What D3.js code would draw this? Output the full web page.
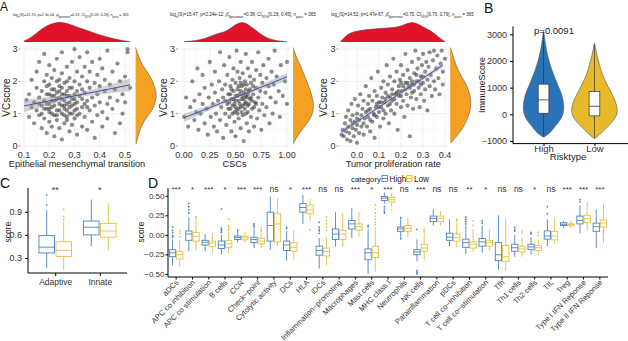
<!DOCTYPE html>
<html lang="en">
<head>
<meta charset="UTF-8" />
<script src="https://cdn.jsdelivr.net/npm/d3@7"></script>
<style>
  body { margin: 0; background: #fff; }
  svg { font-family: "Liberation Sans", Arial, sans-serif; }
</style>
</head>
<body>
<div id="chart"></div>
<script>
// ---------- data: panel A ----------
const emtPts = [[0.11,1.42],[0.12,0.9],[0.12,1.6],[0.13,1.2],[0.13,2.05],[0.14,1.35],[0.14,0.7],[0.15,1.8],[0.15,1.1],[0.15,2.3],[0.16,1.5],[0.16,0.95],[0.16,2.6],[0.17,1.25],[0.17,1.7],[0.17,0.55],[0.18,2.0],[0.18,1.4],[0.18,0.85],[0.18,2.85],[0.19,1.15],[0.19,1.6],[0.19,2.2],[0.19,0.4],[0.2,1.3],[0.2,1.9],[0.2,0.75],[0.2,2.5],[0.2,1.05],[0.21,1.55],[0.21,2.1],[0.21,0.6],[0.21,1.2],[0.22,1.75],[0.22,0.95],[0.22,2.35],[0.22,1.4],[0.22,0.3],[0.23,1.1],[0.23,1.65],[0.23,2.0],[0.23,0.8],[0.23,2.7],[0.24,1.3],[0.24,1.85],[0.24,0.55],[0.24,1.5],[0.25,2.25],[0.25,1.0],[0.25,1.6],[0.25,0.2],[0.25,2.9],[0.26,1.4],[0.26,1.95],[0.26,0.7],[0.26,1.15],[0.27,1.7],[0.27,2.45],[0.27,0.9],[0.27,1.3],[0.28,2.1],[0.28,1.55],[0.28,0.45],[0.28,1.0],[0.29,1.8],[0.29,2.6],[0.29,1.25],[0.29,0.65],[0.3,1.45],[0.3,2.0],[0.3,0.85],[0.3,3.0],[0.3,1.1],[0.31,1.7],[0.31,2.3],[0.31,0.35],[0.31,1.35],[0.32,1.9],[0.32,1.0],[0.32,2.75],[0.32,1.55],[0.33,1.2],[0.33,2.15],[0.33,0.6],[0.34,1.65],[0.34,2.45],[0.34,0.9],[0.35,1.4],[0.35,2.0],[0.35,0.5],[0.35,2.9],[0.36,1.8],[0.36,1.1],[0.36,2.3],[0.37,1.5],[0.37,0.75],[0.37,2.6],[0.38,1.95],[0.38,1.25],[0.38,0.25],[0.39,1.6],[0.39,2.2],[0.39,0.95],[0.4,1.35],[0.4,2.7],[0.4,1.85],[0.41,1.05],[0.41,2.4],[0.41,0.6],[0.42,1.7],[0.42,2.05],[0.43,1.3],[0.43,2.95],[0.43,0.85],[0.44,1.9],[0.44,1.5],[0.45,2.3],[0.45,1.15],[0.46,1.75],[0.46,0.4],[0.47,2.55],[0.47,1.4],[0.48,2.0],[0.48,0.7],[0.49,1.6],[0.49,1.0],[0.5,2.15],[0.5,1.35],[0.51,2.9],[0.51,3.0],[0.52,1.8],[0.2,1.6],[0.22,1.25],[0.24,1.7],[0.26,1.6],[0.28,1.35],[0.25,1.25],[0.27,1.1],[0.23,1.45],[0.21,1.0],[0.3,1.6],[0.29,1.0],[0.18,1.15],[0.26,0.95],[0.24,2.05],[0.33,1.45],[0.31,0.95],[0.19,1.85],[0.27,2.0],[0.35,1.2],[0.28,1.8],[0.17,1.0],[0.19,1.3],[0.21,1.75],[0.23,0.95],[0.25,1.45],[0.27,1.55],[0.29,1.45],[0.31,1.15],[0.33,1.75],[0.22,1.55],[0.24,1.1],[0.26,1.25],[0.2,1.15],[0.28,1.2],[0.3,1.3],[0.16,1.3],[0.34,1.3],[0.25,1.8],[0.21,1.4],[0.27,0.8]];
const cscPts = [[0.0,0.9],[0.02,1.5],[0.04,0.6],[0.06,1.2],[0.08,2.0],[0.1,0.8],[0.1,1.4],[0.12,1.05],[0.13,2.4],[0.14,0.5],[0.15,1.6],[0.16,1.0],[0.18,1.3],[0.18,2.2],[0.2,0.7],[0.2,1.8],[0.22,1.15],[0.23,0.35],[0.24,1.5],[0.25,2.6],[0.26,0.9],[0.27,1.9],[0.28,1.3],[0.29,0.6],[0.3,1.65],[0.3,2.3],[0.31,1.0],[0.32,0.45],[0.33,1.4],[0.34,2.0],[0.35,0.8],[0.35,2.9],[0.36,1.2],[0.37,1.75],[0.38,0.25],[0.38,1.5],[0.39,2.5],[0.4,1.0],[0.4,1.9],[0.41,0.65],[0.42,1.3],[0.42,2.2],[0.43,1.6],[0.44,0.9],[0.44,2.75],[0.45,1.15],[0.45,1.85],[0.46,0.45],[0.46,1.45],[0.47,2.05],[0.47,1.0],[0.48,1.7],[0.48,2.4],[0.49,0.75],[0.49,1.3],[0.5,1.95],[0.5,1.55],[0.5,0.3],[0.51,2.95],[0.51,1.1],[0.52,1.75],[0.52,2.3],[0.53,0.85],[0.53,1.4],[0.54,2.1],[0.54,1.6],[0.55,0.55],[0.55,1.2],[0.55,2.6],[0.56,1.85],[0.56,1.45],[0.57,0.95],[0.57,2.25],[0.58,1.65],[0.58,0.15],[0.59,1.3],[0.59,2.0],[0.6,1.0],[0.6,2.85],[0.6,1.55],[0.61,0.7],[0.61,1.9],[0.62,1.25],[0.62,2.4],[0.63,1.7],[0.63,0.45],[0.64,2.15],[0.64,1.45],[0.65,0.9],[0.65,1.95],[0.66,1.15],[0.66,2.6],[0.67,1.6],[0.68,0.6],[0.68,2.05],[0.69,1.35],[0.7,2.35],[0.7,1.8],[0.71,0.85],[0.72,1.5],[0.72,2.9],[0.73,1.1],[0.74,2.2],[0.74,1.7],[0.75,0.5],[0.76,1.95],[0.76,1.3],[0.77,2.5],[0.78,0.95],[0.79,1.65],[0.8,2.1],[0.8,1.2],[0.82,1.85],[0.82,2.7],[0.83,0.7],[0.84,1.5],[0.85,2.3],[0.86,1.0],[0.87,1.9],[0.88,2.95],[0.89,1.35],[0.9,2.15],[0.92,1.7],[0.93,0.9],[0.94,2.5],[0.96,1.55],[0.98,2.0],[1.0,2.6],[1.0,1.3],[0.45,1.6],[0.5,1.2],[0.52,1.0],[0.55,1.7],[0.58,1.9],[0.6,1.35],[0.62,1.6],[0.57,1.25],[0.53,1.85],[0.48,1.45],[0.65,1.5],[0.67,1.85],[0.43,1.15],[0.4,1.4],[0.7,1.3],[0.5,1.4],[0.54,1.3],[0.56,1.05],[0.58,1.45],[0.6,1.75],[0.63,1.3],[0.66,1.4],[0.47,1.25],[0.52,1.55],[0.55,1.95],[0.59,1.15],[0.61,1.5],[0.64,1.75],[0.68,1.2],[0.46,1.75],[0.44,1.35],[0.62,1.05],[0.57,1.55],[0.49,1.05],[0.53,1.15]];
const tprPts = [[-0.07,0.35],[-0.065,0.5],[-0.06,0.3],[-0.055,0.7],[-0.05,0.45],[-0.05,0.9],[-0.045,0.2],[-0.04,0.6],[-0.04,1.1],[-0.035,0.4],[-0.03,0.8],[-0.03,0.15],[-0.025,1.3],[-0.02,0.55],[-0.02,0.95],[-0.015,0.3],[-0.01,0.75],[-0.01,1.45],[-0.005,0.5],[0.0,1.0],[0.0,0.65],[0.0,0.1],[0.005,1.25],[0.01,0.8],[0.01,0.4],[0.015,1.6],[0.02,0.95],[0.02,0.6],[0.025,1.15],[0.03,0.35],[0.03,1.4],[0.035,0.85],[0.04,1.05],[0.04,1.85],[0.045,0.6],[0.05,1.3],[0.05,0.9],[0.055,1.55],[0.06,0.45],[0.06,1.15],[0.065,2.1],[0.07,0.75],[0.07,1.4],[0.075,1.0],[0.08,1.7],[0.08,0.25],[0.085,1.2],[0.09,0.9],[0.09,1.55],[0.095,2.3],[0.1,1.05],[0.1,1.35],[0.105,0.6],[0.11,1.8],[0.11,1.2],[0.115,1.5],[0.12,0.85],[0.12,2.0],[0.125,1.35],[0.13,1.65],[0.13,1.0],[0.135,2.5],[0.14,1.25],[0.14,1.9],[0.145,0.7],[0.15,1.5],[0.15,2.15],[0.155,1.1],[0.16,1.75],[0.16,1.4],[0.165,2.7],[0.17,1.0],[0.17,2.0],[0.175,1.6],[0.18,1.3],[0.18,2.3],[0.185,0.5],[0.19,1.85],[0.19,1.55],[0.195,2.05],[0.2,1.2],[0.2,2.5],[0.205,1.7],[0.21,1.4],[0.21,2.2],[0.215,0.9],[0.22,1.95],[0.22,2.85],[0.225,1.6],[0.23,2.35],[0.23,1.25],[0.235,1.85],[0.24,2.1],[0.24,0.3],[0.245,1.5],[0.25,2.6],[0.25,1.9],[0.255,1.15],[0.26,2.25],[0.26,1.7],[0.265,2.95],[0.27,2.0],[0.27,1.45],[0.275,2.4],[0.28,1.8],[0.28,2.7],[0.285,1.2],[0.29,2.15],[0.29,1.6],[0.295,2.5],[0.3,1.95],[0.3,2.85],[0.305,1.4],[0.31,2.3],[0.31,1.75],[0.315,2.6],[0.32,2.05],[0.32,1.1],[0.325,2.45],[0.33,1.85],[0.33,2.9],[0.335,2.2],[0.34,1.55],[0.345,2.65],[0.35,2.0],[0.35,2.95],[0.355,1.75],[0.36,2.4],[0.365,2.8],[0.37,2.1],[0.375,1.6],[0.38,2.55],[0.385,2.95],[0.39,2.3],[0.39,1.9],[0.4,2.7],[0.0,0.85],[0.05,1.1],[0.1,1.2],[0.15,1.3],[0.2,1.55],[0.25,2.0],[0.3,2.15],[0.12,1.1],[0.18,1.65],[0.22,1.75],[0.28,2.0],[0.08,0.95],[0.03,0.7],[-0.02,0.7],[0.26,1.9],[0.13,1.45],[0.16,1.6],[0.19,1.7],[0.21,1.85],[0.24,1.8],[0.27,2.2],[0.17,1.45],[0.14,1.55],[0.11,1.35],[0.23,1.95],[0.29,1.9],[0.06,0.8],[0.09,1.3],[0.25,1.65],[0.2,1.95]];

// marginal densities: [value, relative height]
const emtTopDens = [[0.1,0.05],[0.125,0.2],[0.15,0.45],[0.175,0.7],[0.2,0.88],[0.235,1.0],[0.26,0.97],[0.3,0.8],[0.33,0.66],[0.36,0.54],[0.4,0.35],[0.43,0.25],[0.46,0.15],[0.5,0.05],[0.52,0.02]];
const emtRightDens = [[3.05,0.0],[3.0,0.03],[2.75,0.15],[2.5,0.33],[2.25,0.6],[2.0,0.83],[1.7,0.97],[1.5,1.0],[1.2,0.87],[1.0,0.67],[0.8,0.42],[0.5,0.2],[0.2,0.08],[0.05,0.02]];
const cscTopDens = [[0,0.02],[0.1,0.06],[0.16,0.12],[0.22,0.2],[0.29,0.37],[0.35,0.45],[0.42,0.55],[0.48,0.82],[0.55,1.0],[0.6,0.95],[0.64,0.8],[0.7,0.58],[0.73,0.45],[0.78,0.28],[0.83,0.15],[0.9,0.07],[0.95,0.04],[1.0,0.02]];
const cscRightDens = [[3.05,0.0],[3.0,0.03],[2.75,0.15],[2.45,0.38],[1.95,0.69],[1.52,0.92],[1.2,1.0],[0.9,0.89],[0.6,0.54],[0.28,0.18],[0.13,0.05],[0.05,0.01]];
const tprTopDens = [[-0.075,0.03],[-0.06,0.2],[-0.04,0.4],[-0.02,0.5],[0.0,0.55],[0.05,0.63],[0.1,0.68],[0.15,0.7],[0.2,0.78],[0.24,1.0],[0.27,0.95],[0.3,0.75],[0.33,0.6],[0.36,0.35],[0.38,0.15],[0.4,0.03]];
const tprRightDens = [[3.05,0.0],[3.0,0.05],[2.45,0.27],[2.04,0.65],[1.73,0.89],[1.42,1.0],[1.1,0.97],[0.8,0.8],[0.5,0.56],[0.25,0.24],[0.1,0.05]];

// fitted lines: [x0, x1], [y0, y1], CI half widths [left, mid, right]
const emtFit = { x: [0.1, 0.52], y: [1.24, 1.89], se: [0.2, 0.07, 0.2] };
const cscFit = { x: [0.0, 1.0], y: [0.87, 2.14], se: [0.13, 0.05, 0.12] };
const tprFit = { x: [-0.07, 0.39], y: [0.44, 2.5], se: [0.08, 0.04, 0.08] };

const xTitles = ["Epithelial mesenchymal transition", "CSCs", "Tumor proliferation rate"];
const statLogS = ["15.70", "15.47", "14.52"];
const statP = ["2.3e-04", "2.24e-12", "1.47e-67"];
const statRho = ["0.19", "0.38", "0.75"];
const statCI = ["[0.09, 0.29]", "[0.28, 0.45]", "[0.70, 0.79]"];
const nPairs = 365;
const vcTicks = [0, 1, 2, 3];

// ---------- data: panel B ----------
const riskCats = ["High", "Low"];
const riskViolins = [
  [[3100,0.01],[2800,0.05],[2400,0.12],[2000,0.23],[1800,0.3],[1500,0.42],[1160,0.57],[900,0.7],[660,0.8],[290,0.87],[0,0.83],[-200,0.72],[-340,0.59],[-500,0.45],[-650,0.32],[-750,0.19],[-850,0.03]],
  [[2650,0.01],[2400,0.06],[2040,0.15],[1410,0.35],[910,0.65],[540,0.87],[160,1.0],[-150,0.9],[-460,0.56],[-710,0.28],[-900,0.03]]
];
const riskBox = [[-850, 40, 540, 1130, 3080], [-900, -60, 300, 850, 2630]];
const immuneTicks = [-1000, 0, 1000, 2000, 3000];
const riskP = "p=0.0091";

// ---------- data: panel C ----------
const cCats = ["Adaptive", "Innate"];
const cHigh = [[0.17,0.365,0.44,0.59,0.92],[0.45,0.60,0.70,0.78,1.06]];
const cLow = [[0.14,0.32,0.40,0.51,0.77],[0.40,0.57,0.65,0.75,1.01]];
const cOutHigh = [[0.99,1.12],[]];
const cOutLow = [[0.8,0.84,0.93],[]];
const cSig = ["**", "*"];
const cTicks = [0.3, 0.6, 0.9];

// ---------- data: panel D ----------
const dCats = ["aDCs","APC co inhibition","APC co stimulation","B cells","CCR","Check\u2212point","Cytolytic activity","DCs","HLA","iDCs","Inflammation\u2212promoting","Macrophages","Mast cells","MHC class I","Neutrophils","NK cells","Parainflammation","pDCs","T cell co\u2212inhibition","T cell co\u2212stimulation","Tfh","Th1 cells","Th2 cells","TIL","Treg","Type I IFN Reponse","Type II IFN Reponse"];
const dSig = ["***","*","***","*","***","***","ns","*","***","ns","ns","***","*","***","ns","***","ns","ns","**","*","ns","ns","*","ns","***","***","***"];
const dHigh = [[-0.39,-0.28,-0.23,-0.19,-0.06],[-0.21,-0.07,0.01,0.05,0.23],[-0.21,-0.13,-0.095,-0.07,0.01],[-0.25,-0.175,-0.13,-0.08,0.0],[-0.1,-0.06,-0.035,-0.015,0.05],[-0.17,-0.1,-0.06,-0.03,0.08],[-0.19,-0.08,0.12,0.29,0.49],[-0.33,-0.2,-0.13,-0.08,0.05],[0.14,0.29,0.35,0.40,0.51],[-0.43,-0.26,-0.2,-0.145,-0.04],[-0.15,-0.06,0.01,0.075,0.29],[-0.04,0.075,0.14,0.185,0.34],[-0.5,-0.32,-0.23,-0.18,0.07],[0.40,0.44,0.47,0.49,0.54],[-0.035,0.045,0.075,0.1,0.21],[-0.34,-0.255,-0.22,-0.19,-0.06],[0.12,0.17,0.21,0.24,0.325],[-0.145,-0.07,-0.03,0.02,0.2],[-0.245,-0.16,-0.1,-0.055,0.12],[-0.23,-0.145,-0.09,-0.045,0.12],[-0.45,-0.33,-0.255,-0.1,0.25],[-0.28,-0.21,-0.165,-0.12,0.0],[-0.25,-0.19,-0.155,-0.12,-0.03],[-0.145,-0.055,-0.015,0.05,0.2],[0.09,0.12,0.135,0.155,0.18],[0.02,0.14,0.185,0.24,0.38],[-0.17,0.045,0.105,0.15,0.32]];
const dLow = [[-0.41,-0.31,-0.255,-0.21,-0.07],[-0.19,-0.08,-0.02,0.03,0.19],[-0.23,-0.15,-0.105,-0.08,-0.01],[-0.24,-0.16,-0.115,-0.07,0.03],[-0.1,-0.065,-0.04,-0.02,0.04],[-0.17,-0.115,-0.08,-0.045,0.03],[-0.14,-0.09,0.14,0.27,0.47],[-0.32,-0.21,-0.16,-0.1,0.06],[0.18,0.27,0.32,0.38,0.46],[-0.39,-0.27,-0.21,-0.17,-0.03],[-0.15,-0.06,0.01,0.06,0.28],[-0.02,0.06,0.105,0.14,0.29],[-0.47,-0.29,-0.23,-0.145,0.1],[0.36,0.42,0.45,0.48,0.54],[-0.03,0.045,0.085,0.12,0.21],[-0.32,-0.21,-0.17,-0.12,0.02],[0.12,0.17,0.21,0.24,0.3],[-0.16,-0.08,-0.035,0.01,0.16],[-0.22,-0.17,-0.12,-0.09,0.07],[-0.2,-0.145,-0.1,-0.07,0.07],[-0.46,-0.34,-0.28,-0.135,0.2],[-0.28,-0.22,-0.18,-0.145,-0.04],[-0.255,-0.2,-0.165,-0.135,-0.06],[-0.12,-0.065,-0.015,0.045,0.22],[0.09,0.115,0.13,0.14,0.18],[0.05,0.16,0.205,0.25,0.42],[-0.1,0.1,0.15,0.19,0.4]];
const dOutHigh = [[0.10,0.06,0.03,-0.01,-0.03],[0.40,0.36,0.32,0.28],[],[0.33,0.09,0.07,0.05,0.03],[0.06],[0.14,0.12,0.1],[],[0.08,0.1],[],[0.16,0.1,0.07,0.05,0.02],[],[],[0.12,0.1],[0.36,0.33,0.3,0.28],[-0.05,0.22],[0.07,-0.46,-0.48,-0.5],[],[],[0.23,0.2,0.17,0.14],[0.18,0.15],[],[0.1,0.07,0.05],[0.03,0.01],[0.36,0.27],[],[0.45,0.42],[]];
const dOutLow = [[0.05,0.02,-0.02],[0.23,0.21],[0.01],[0.2,0.12,0.1,0.08,0.06],[],[0.09,0.06,0.05],[],[],[0.07],[0.23,0.18,0.14,0.1,0.06],[],[],[0.38,0.33,0.28,0.24,0.2,0.16,0.13],[0.32],[],[0.07,0.04],[],[0.2,0.18],[0.18,0.12],[],[],[0.05,0.02],[0.03,-0.01],[],[],[],[0.02,0.05,-0.05]];
const dTicks = [-0.5, -0.25, 0, 0.25, 0.5];
const groups = ["High", "Low"];

// ---------- drawing ----------
const W = 628, H = 341;
const colHigh = "#4a82c3", colLow = "#e3c13f";
const svg = d3.select("#chart").append("svg").attr("width", W).attr("height", H);

function panelLabel(t, x, y, fs) {
  svg.append("text").attr("x", x).attr("y", y).attr("font-size", fs || 14).attr("fill", "#111").text(t);
}

// subtitle extents [left, right] in px
const subSpan = [[13, 129], [170, 316], [331, 474]];

function scatterPanel(i, pts, topD, rightD, fit, xDom, xRange, xTicks, fmt) {
  const g = svg.append("g");
  const x = d3.scaleLinear().domain(xDom).range(xRange);
  const y = d3.scaleLinear().domain([-0.1, 3.1]).range([149.2, 45.8]);
  const [x0, x1] = xRange;
  // grid
  const xt = xTicks, step = xt[1] - xt[0];
  const minorX = xt.map(v => v + step / 2).concat([xt[0] - step / 2]).filter(v => v > xDom[0] && v < xDom[1]);
  g.selectAll(".gmx").data(minorX).join("line")
    .attr("x1", d => x(d)).attr("x2", d => x(d)).attr("y1", y(3.1)).attr("y2", y(-0.1))
    .attr("stroke", "#f2f2f2").attr("stroke-width", 0.5);
  g.selectAll(".gmy").data([0.5, 1.5, 2.5]).join("line")
    .attr("x1", x0).attr("x2", x1).attr("y1", d => y(d)).attr("y2", d => y(d))
    .attr("stroke", "#f2f2f2").attr("stroke-width", 0.5);
  g.selectAll(".gx").data(xt).join("line")
    .attr("x1", d => x(d)).attr("x2", d => x(d)).attr("y1", y(3.1)).attr("y2", y(-0.1))
    .attr("stroke", "#e6e6e6").attr("stroke-width", 0.6);
  g.selectAll(".gy").data(vcTicks).join("line")
    .attr("x1", x0).attr("x2", x1).attr("y1", d => y(d)).attr("y2", d => y(d))
    .attr("stroke", "#e6e6e6").attr("stroke-width", 0.6);

  // points
  g.selectAll(".pt").data(pts).join("circle")
    .attr("cx", d => x(d[0])).attr("cy", d => y(d[1])).attr("r", 2.1)
    .attr("fill", "#2e2e2e").attr("fill-opacity", 0.55);

  // CI band + fit line
  const band = d3.range(0, 1.0001, 0.05).map(t => {
    const xv = fit.x[0] + t * (fit.x[1] - fit.x[0]);
    const yv = fit.y[0] + t * (fit.y[1] - fit.y[0]);
    const e = t < 0.5 ? fit.se[0] : fit.se[2];
    const se = Math.sqrt(fit.se[1] ** 2 + (e ** 2 - fit.se[1] ** 2) * (2 * t - 1) ** 2);
    return [xv, yv - se, yv + se];
  });
  g.append("path").datum(band)
    .attr("d", d3.area().x(d => x(d[0])).y0(d => y(d[1])).y1(d => y(d[2])))
    .attr("fill", "#9e9e9e").attr("fill-opacity", 0.45);
  g.append("line")
    .attr("x1", x(fit.x[0])).attr("y1", y(fit.y[0]))
    .attr("x2", x(fit.x[1])).attr("y2", y(fit.y[1]))
    .attr("stroke", "#3d55b0").attr("stroke-width", 1);

  // axis labels
  g.selectAll(".yl").data(vcTicks).join("text")
    .attr("x", x0 - 4).attr("y", d => y(d) + 3).attr("text-anchor", "end")
    .attr("font-size", 9).attr("fill", "#333").text(d => d);
  g.selectAll(".yt").data(vcTicks).join("line")
    .attr("x1", x0 - 3).attr("x2", x0 - 1).attr("y1", d => y(d)).attr("y2", d => y(d))
    .attr("stroke", "#555").attr("stroke-width", 0.6);
  g.selectAll(".xl").data(xt).join("text")
    .attr("x", d => x(d)).attr("y", 157.5).attr("text-anchor", "middle")
    .attr("font-size", 9).attr("fill", "#333").text(d => d3.format(fmt)(d));
  g.append("text").attr("transform", `translate(${x0 - 12},${y(1.5)}) rotate(-90)`)
    .attr("text-anchor", "middle").attr("font-size", 10).attr("fill", "#222").text("VCscore");
  g.append("text").attr("x", (x0 + x1) / 2).attr("y", 166.5).attr("text-anchor", "middle")
    .attr("font-size", 9.2).attr("fill", "#222").text(xTitles[i]);

  // top marginal density
  const topBase = 42, topH = 20;
  g.append("path").datum(topD)
    .attr("d", d3.area().curve(d3.curveBasis).x(d => x(d[0])).y0(topBase).y1(d => topBase - d[1] * topH))
    .attr("fill", "#e3122b");
  g.append("path").datum(topD)
    .attr("d", d3.line().curve(d3.curveBasis).x(d => x(d[0])).y(d => topBase - d[1] * topH))
    .attr("fill", "none").attr("stroke", "#444").attr("stroke-width", 0.5);

  // right marginal density
  const rBase = x1 + 3, rW = 21;
  g.append("path").datum(rightD)
    .attr("d", d3.area().curve(d3.curveBasis).y(d => y(d[0])).x0(rBase).x1(d => rBase + d[1] * rW))
    .attr("fill", "#f3a023");
  g.append("path").datum(rightD)
    .attr("d", d3.line().curve(d3.curveBasis).y(d => y(d[0])).x(d => rBase + d[1] * rW))
    .attr("fill", "none").attr("stroke", "#444").attr("stroke-width", 0.5);

  // stats subtitle: font size fitted to the width it takes in the figure
  const [s0, s1] = subSpan[i];
  const t = g.append("text").attr("x", s0).attr("y", 16).attr("font-size", 5).attr("fill", "#222");
  const sub = s => t.append("tspan").attr("font-size", "0.72em").attr("baseline-shift", "sub").text(s);
  t.append("tspan").text("log");
  sub("e");
  t.append("tspan").text(`(S)=${statLogS[i]}, p=${statP[i]}, \u03C1\u0302`);
  sub("Spearman");
  t.append("tspan").text(`=${statRho[i]}, CI`);
  sub("95%");
  t.append("tspan").text(`${statCI[i]}, n`);
  sub("pairs");
  t.append("tspan").text(` = ${nPairs}`);
  const natural = t.node().getComputedTextLength();
  t.attr("font-size", 5 * (s1 - s0) / natural);
}

scatterPanel(0, emtPts, emtTopDens, emtRightDens, emtFit, [0.09, 0.53], [21.5, 132.6], [0.1, 0.2, 0.3, 0.4, 0.5], ".1f");
scatterPanel(1, cscPts, cscTopDens, cscRightDens, cscFit, [-0.05, 1.03], [178.9, 290.1], [0, 0.25, 0.5, 0.75, 1], ".2f");
scatterPanel(2, tprPts, tprTopDens, tprRightDens, tprFit, [-0.08, 0.41], [339.4, 447.2], [0, 0.1, 0.2, 0.3, 0.4], ".1f");
panelLabel("A", 0, 11, 12);

// ---------- panel B ----------
{
  const g = svg.append("g");
  const x = d3.scalePoint().domain(riskCats).range([513, 625]).padding(0.6);
  const y = d3.scaleLinear().domain([-1100, 3300]).range([143.6, 26.3]);
  const maxHW = 23.7, boxW = 10.7;
  const fills = ["#2b73b8", "#e9b92c"];
  riskCats.forEach((c, i) => {
    const cx = x(c);
    g.append("path").datum(riskViolins[i])
      .attr("d", d3.area().curve(d3.curveBasis).y(d => y(d[0])).x0(d => cx - d[1] * maxHW).x1(d => cx + d[1] * maxHW))
      .attr("fill", fills[i]).attr("stroke", "#555").attr("stroke-width", 0.6);
    const b = riskBox[i];
    g.append("line").attr("x1", cx).attr("x2", cx).attr("y1", y(b[0])).attr("y2", y(b[4]))
      .attr("stroke", "#333").attr("stroke-width", 0.7);
    g.append("rect").attr("x", cx - boxW / 2).attr("width", boxW)
      .attr("y", y(b[3])).attr("height", y(b[1]) - y(b[3]))
      .attr("fill", "#fff").attr("stroke", "#333").attr("stroke-width", 0.7);
    g.append("line").attr("x1", cx - boxW / 2).attr("x2", cx + boxW / 2).attr("y1", y(b[2])).attr("y2", y(b[2]))
      .attr("stroke", "#333").attr("stroke-width", 0.8);
  });
  g.append("g").attr("transform", "translate(513,0)")
    .call(d3.axisLeft(y).tickValues(immuneTicks).tickSize(3).tickFormat(d => d < 0 ? "\u2212" + Math.abs(d) : d))
    .call(a => a.select(".domain").attr("d", `M-0,${y(3300)}V${y(-1100)}`))
    .call(a => a.selectAll("text").attr("font-size", 9).attr("fill", "#333").attr("font-family", null));
  g.append("g").attr("transform", `translate(0,${y(-1100)})`)
    .call(d3.axisBottom(x).tickSize(2.5).tickSizeOuter(0))
    .call(a => a.select(".domain").attr("d", "M513,0H628"))
    .call(a => a.selectAll("text").attr("font-size", 9.5).attr("fill", "#333").attr("font-family", null).attr("y", 1.5));
  g.append("text").attr("x", 568).attr("y", 160).attr("text-anchor", "middle").attr("font-size", 9.5).attr("fill", "#222").text("Risktype");
  g.append("text").attr("transform", "translate(485,85) rotate(-90)").attr("text-anchor", "middle")
    .attr("font-size", 9).attr("fill", "#222").text("ImmuneScore");
  g.append("text").attr("x", 554).attr("y", 34).attr("text-anchor", "middle").attr("font-size", 9.5).attr("fill", "#222").text(riskP);
}
panelLabel("B", 484, 13);

// ---------- boxplot helper ----------
function drawBox(g, cx, w, s, outs, y, col) {
  g.append("line").attr("x1", cx).attr("x2", cx).attr("y1", y(s[0])).attr("y2", y(s[4]))
    .attr("stroke", col).attr("stroke-width", 0.9);
  g.append("rect").attr("x", cx - w / 2).attr("width", w)
    .attr("y", y(s[3])).attr("height", Math.max(0.5, y(s[1]) - y(s[3])))
    .attr("fill", "#fff").attr("stroke", col).attr("stroke-width", 0.9);
  g.append("line").attr("x1", cx - w / 2).attr("x2", cx + w / 2).attr("y1", y(s[2])).attr("y2", y(s[2]))
    .attr("stroke", col).attr("stroke-width", 0.9);
  g.selectAll(null).data(outs).join("circle")
    .attr("cx", cx).attr("cy", d => y(d)).attr("r", 0.9).attr("fill", col);
}

// ---------- panel C ----------
{
  const g = svg.append("g");
  const x = d3.scalePoint().domain(cCats).range([28, 127]).padding(0.61);
  const y = d3.scaleLinear().domain([0.104, 1.21]).range([273, 188]);
  cCats.forEach((c, i) => {
    drawBox(g, x(c) - 8.5, 15.5, cHigh[i], cOutHigh[i], y, colHigh);
    drawBox(g, x(c) + 8.5, 15.5, cLow[i], cOutLow[i], y, colLow);
    g.append("text").attr("x", x(c)).attr("y", 193).attr("text-anchor", "middle")
      .attr("font-size", 9).attr("fill", "#333").text(cSig[i]);
  });
  g.append("g").attr("transform", "translate(28,0)")
    .call(d3.axisLeft(y).tickValues(cTicks).tickSize(3).tickFormat(d3.format(".1f")))
    .call(a => a.select(".domain").attr("d", `M0,188V273`))
    .call(a => a.selectAll("text").attr("font-size", 9).attr("fill", "#333").attr("font-family", null));
  g.append("g").attr("transform", "translate(0,273)")
    .call(d3.axisBottom(x).tickSize(3))
    .call(a => a.select(".domain").attr("d", "M28,0H127"))
    .call(a => a.selectAll("text").attr("font-size", 8.5).attr("fill", "#333").attr("font-family", null));
  g.append("text").attr("transform", "translate(11,232) rotate(-90)").attr("text-anchor", "middle")
    .attr("font-size", 8.5).attr("fill", "#222").text("score");
}
panelLabel("C", 0, 188);

// ---------- panel D ----------
{
  const g = svg.append("g");
  const x = d3.scaleBand().domain(dCats).range([168, 608]);
  const y = d3.scaleLinear().domain([-0.54, 0.6]).range([277, 188]);
  const bw = 6.3, off = 3.6;
  dCats.forEach((c, i) => {
    const cx = x(c) + x.bandwidth() / 2;
    drawBox(g, cx - off, bw, dHigh[i], dOutHigh[i], y, colHigh);
    drawBox(g, cx + off, bw, dLow[i], dOutLow[i], y, colLow);
    g.append("text").attr("x", cx).attr("y", 191.5).attr("text-anchor", "middle")
      .attr("font-size", dSig[i] === "ns" ? 8.5 : 8).attr("fill", "#333").text(dSig[i]);
  });
  g.append("g").attr("transform", "translate(168,0)")
    .call(d3.axisLeft(y).tickValues(dTicks).tickSize(2.5).tickFormat(d3.format(".2f")))
    .call(a => a.select(".domain").attr("d", `M0,188V277`))
    .call(a => a.selectAll("text").attr("font-size", 8).attr("fill", "#333").attr("font-family", null).attr("x", -3.5));
  const xa = g.append("g").attr("transform", "translate(0,277)")
    .call(d3.axisBottom(x).tickSize(2.5))
    .call(a => a.select(".domain").attr("d", "M168,0H608"));
  xa.selectAll("text").attr("font-size", 7.6).attr("fill", "#333").attr("font-family", null)
    .attr("text-anchor", "end").attr("dy", null).attr("y", 0)
    .attr("transform", "translate(3,6) rotate(-45)");
  g.append("text").attr("transform", "translate(144,232) rotate(-90)").attr("text-anchor", "middle")
    .attr("font-size", 8.5).attr("fill", "#222").text("score");

  // legend
  const lg = g.append("g");
  lg.append("text").attr("x", 351).attr("y", 182).attr("font-size", 7.8).attr("fill", "#222").text("category");
  groups.forEach((k, i) => {
    const lx = 382 + i * 24.5;
    const col = i === 0 ? colHigh : colLow;
    lg.append("rect").attr("x", lx).attr("y", 175.5).attr("width", 5.5).attr("height", 6)
      .attr("fill", "#fff").attr("stroke", col).attr("stroke-width", 0.9);
    lg.append("line").attr("x1", lx).attr("x2", lx + 5.5).attr("y1", 178.5).attr("y2", 178.5)
      .attr("stroke", col).attr("stroke-width", 0.9);
    lg.append("text").attr("x", lx + 7.5).attr("y", 182).attr("font-size", 8.2).attr("fill", "#222").text(k);
  });
}
panelLabel("D", 148, 188);
</script>
</body>
</html>
